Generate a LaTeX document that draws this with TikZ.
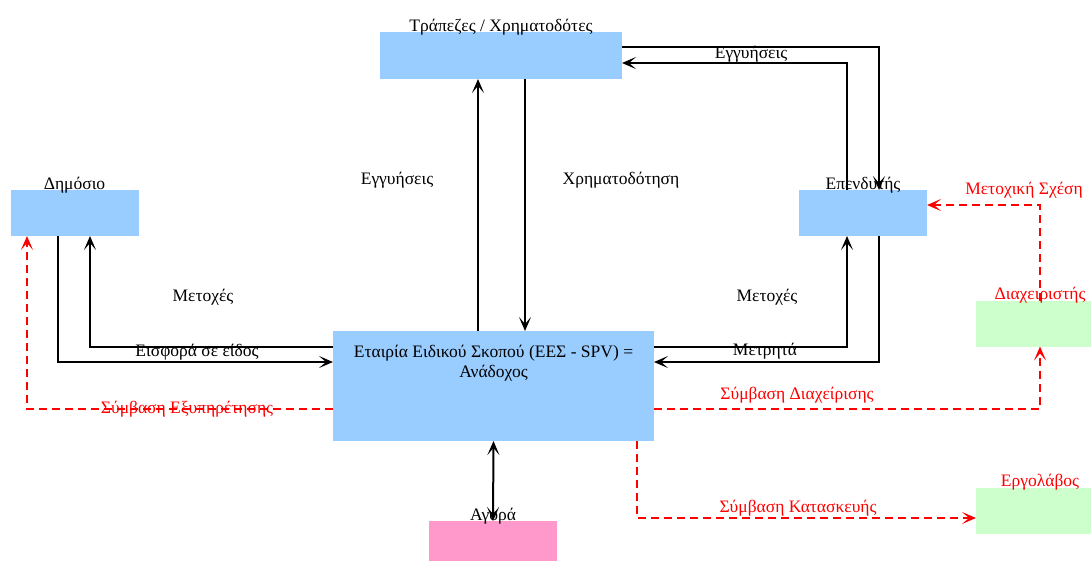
\documentclass[tikz,border=0pt]{standalone}
\usepackage{fontspec}
\setmainfont{Liberation Serif}
\usepackage{tikz}
\usetikzlibrary{arrows.meta}

\definecolor{boxblue}{HTML}{99CCFF}
\definecolor{boxpink}{HTML}{FF99CC}
\definecolor{boxgreen}{HTML}{CCFFCC}

\begin{document}
\begin{tikzpicture}[x=1pt,y=-1pt,
  every node/.style={font=\fontsize{17.5}{20}\selectfont},
  box/.style={fill=#1,inner sep=0,outer sep=0,minimum width=128pt,minimum height=46pt},
  top/.style={anchor=base,inner sep=0,yshift=1pt},
  tip/.tip={Stealth[length=14pt,width=12pt,inset=7pt]},
  flow/.style={line width=2pt,-tip},
  flowboth/.style={line width=2pt,tip-tip},
  contract/.style={red,line width=2pt,dash pattern=on 8pt off 5pt,-tip},
  redtext/.style={red}]
\useasboundingbox (0,0) rectangle (1091,560);
\clip (0,0) rectangle (1091,560);

\node[box=boxblue,minimum width=242pt,minimum height=47pt,
  label={[top,name=banksl]north:Τράπεζες / Χρηματοδότες}] (banks) at (501,55.5) {};
\node[box=boxblue,label={[top,name=publ]north:Δημόσιο}] (pub) at (74.5,213) {};
\node[box=boxblue,label={[top,name=invl]north:Επενδυτής}] (inv) at (863,213) {};
\node[box=boxblue,minimum width=321pt,minimum height=110pt,
  label={[name=spvl,anchor=north,align=center,yshift=-11pt]north:Εταιρία Ειδικού Σκοπού (ΕΕΣ  - SPV) =\\Ανάδοχος}] (spv) at (493.5,386) {};
\node[box=boxpink,label={[top,name=mktl]north:Αγορά}] (mkt) at (493,544) {};
\node[box=boxgreen,label={[top,red,name=mgrl]north:Διαχειριστής}] (mgr) at (1040,323.5) {};
\node[box=boxgreen,label={[top,red,name=conl]north:Εργολάβος}] (con) at (1040,510.5) {};

\draw[flow] ([yshift=8.5pt]banks.east) -| ([xshift=16pt]inv.north);
\draw[flow] ([xshift=-16pt]inv.north) |- ([yshift=-7.5pt]banks.east);
\node (g2) at (751,54) {Εγγυήσεις};

\draw[flow] ([xshift=-15.5pt]spv.north) -- ([xshift=-15.5pt]spv.north |- banks.south);
\draw[flow] ([xshift=31.5pt]spv.north |- banks.south) -- ([xshift=31.5pt]spv.north);
\node (g1) at (397,180) {Εγγυήσεις};
\node (fin) at (621,180) {Χρηματοδότηση};

\draw[flow] ([xshift=-16.5pt]pub.south) |- ([yshift=24pt]spv.west);
\draw[flow] ([yshift=39pt]spv.west) -| ([xshift=15.5pt]pub.south);
\node (sh1) at (203,297) {Μετοχές};
\node (kind) at (197,352) {Εισφορά σε είδος};

\draw[flow] ([yshift=39pt]spv.east) -| ([xshift=-16pt]inv.south);
\draw[flow] ([xshift=16pt]inv.south) |- ([yshift=24pt]spv.east);
\node (sh2) at (767,297) {Μετοχές};
\node (cash) at (765,351) {Μετρητά};

\draw[flowboth] (spv.south) -- (mkt.north);

\draw[contract] ([yshift=-23pt]spv.west) -| ([xshift=-47.5pt]pub.south);
\node[redtext] (c1) at (187,409) {Σύμβαση Εξυπηρέτησης};
\draw[contract] ([yshift=-23pt]spv.east) -| (mgr.south);
\node[redtext] (c2) at (797,395) {Σύμβαση Διαχείρισης};
\draw[contract] (mgr.north) |- ([yshift=8pt]inv.east);
\node[redtext] (c3) at (1024,190) {Μετοχική Σχέση};
\draw[contract] ([xshift=143.5pt]spv.south) |- ([yshift=-7.5pt]con.west);
\node[redtext] (c4) at (798,508) {Σύμβαση Κατασκευής};

\end{tikzpicture}
\end{document}
